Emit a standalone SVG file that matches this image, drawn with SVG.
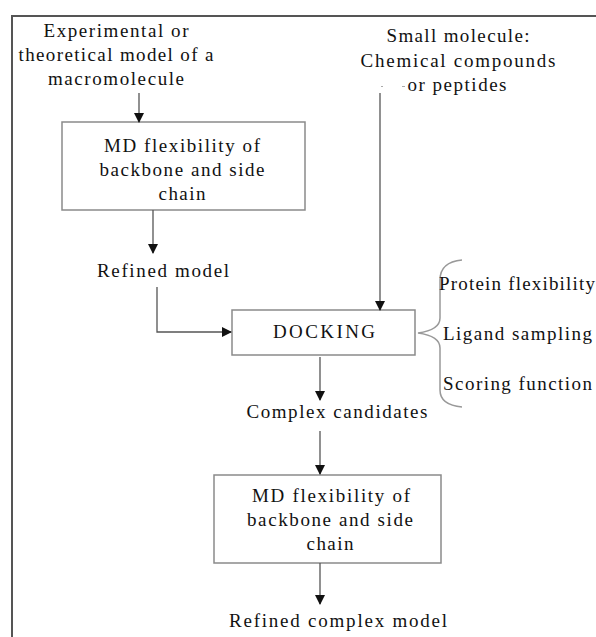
<svg xmlns="http://www.w3.org/2000/svg" width="596" height="637" viewBox="0 0 596 637">
<defs>
<style>
.t{font-family:'Liberation Serif','Times New Roman',serif;font-size:19px;fill:#111}
.c{text-anchor:middle}
.box{fill:#fff;stroke:#8a8a8a;stroke-width:1.5}
.ln{fill:none;stroke:#555;stroke-width:1.3}
</style>
<marker id="ah" markerWidth="10" markerHeight="12" refX="9" refY="6" orient="auto" markerUnits="userSpaceOnUse">
<path d="M0,1 L10,6 L0,11 z" fill="#111"/>
</marker>
</defs>
<rect width="596" height="637" fill="#fff"/>
<path d="M12,637 V16 H596" fill="none" stroke="#555" stroke-width="2"/>

<g id="input-macro" class="t">
<text class="c" x="116" y="37" textLength="145" lengthAdjust="spacing">Experimental or</text>
<text class="c" x="116" y="61" textLength="195" lengthAdjust="spacing">theoretical model of a</text>
<text class="c" x="116" y="85" textLength="136" lengthAdjust="spacing">macromolecule</text>
</g>
<g id="input-small" class="t">
<text class="c" x="458" y="42" textLength="143" lengthAdjust="spacing">Small molecule:</text>
<text class="c" x="458" y="67" textLength="195" lengthAdjust="spacing">Chemical compounds</text>
<text class="c" x="457" y="91" textLength="99" lengthAdjust="spacing">or peptides</text>
<path d="M381,86.5h2M402,86.5h3" stroke="#aaa" stroke-width="1"/>
</g>
<g id="md1" class="t">
<rect class="box" x="62" y="122" width="243" height="88"/>
<text class="c" x="182" y="152" textLength="156" lengthAdjust="spacing">MD flexibility of</text>
<text class="c" x="182" y="176" textLength="165" lengthAdjust="spacing">backbone and side</text>
<text class="c" x="182" y="200" textLength="47" lengthAdjust="spacing">chain</text>
</g>
<g id="refined" class="t">
<text class="c" x="163" y="277" textLength="132" lengthAdjust="spacing">Refined model</text>
</g>
<g id="docking" class="t">
<rect class="box" x="232" y="310" width="183" height="45"/>
<text class="c" x="324" y="338" textLength="102" lengthAdjust="spacing">DOCKING</text>
</g>
<g id="aspects" class="t">
<path d="M462,260 Q440,262 440,280 V318 Q440,330 418,333 Q440,336 440,348 V390 Q440,405 462,407" fill="none" stroke="#999" stroke-width="1.5"/>
<text x="439" y="290" textLength="156" lengthAdjust="spacing">Protein flexibility</text>
<text x="443" y="340" textLength="149" lengthAdjust="spacing">Ligand sampling</text>
<text x="443" y="390" textLength="149" lengthAdjust="spacing">Scoring function</text>
</g>
<g id="candidates" class="t">
<text class="c" x="337" y="418" textLength="181" lengthAdjust="spacing">Complex candidates</text>
</g>
<g id="md2" class="t">
<rect class="box" x="214" y="475" width="227" height="88"/>
<text class="c" x="331" y="502" textLength="158" lengthAdjust="spacing">MD flexibility of</text>
<text class="c" x="330" y="526" textLength="166" lengthAdjust="spacing">backbone and side</text>
<text class="c" x="330" y="550" textLength="47" lengthAdjust="spacing">chain</text>
</g>
<g id="final" class="t">
<text class="c" x="338" y="627" textLength="218" lengthAdjust="spacing">Refined complex model</text>
</g>
<g id="connectors">
<path class="ln" d="M139,93 V122" marker-end="url(#ah)"/>
<path class="ln" d="M153,210 V253" marker-end="url(#ah)"/>
<path class="ln" d="M157,287 V332 H231" marker-end="url(#ah)"/>
<path class="ln" d="M380,93 V310" marker-end="url(#ah)"/>
<path class="ln" d="M320,357 V400" marker-end="url(#ah)"/>
<path class="ln" d="M320,431 V474" marker-end="url(#ah)"/>
<path class="ln" d="M320,563 V604" marker-end="url(#ah)"/>
</g>
</svg>
